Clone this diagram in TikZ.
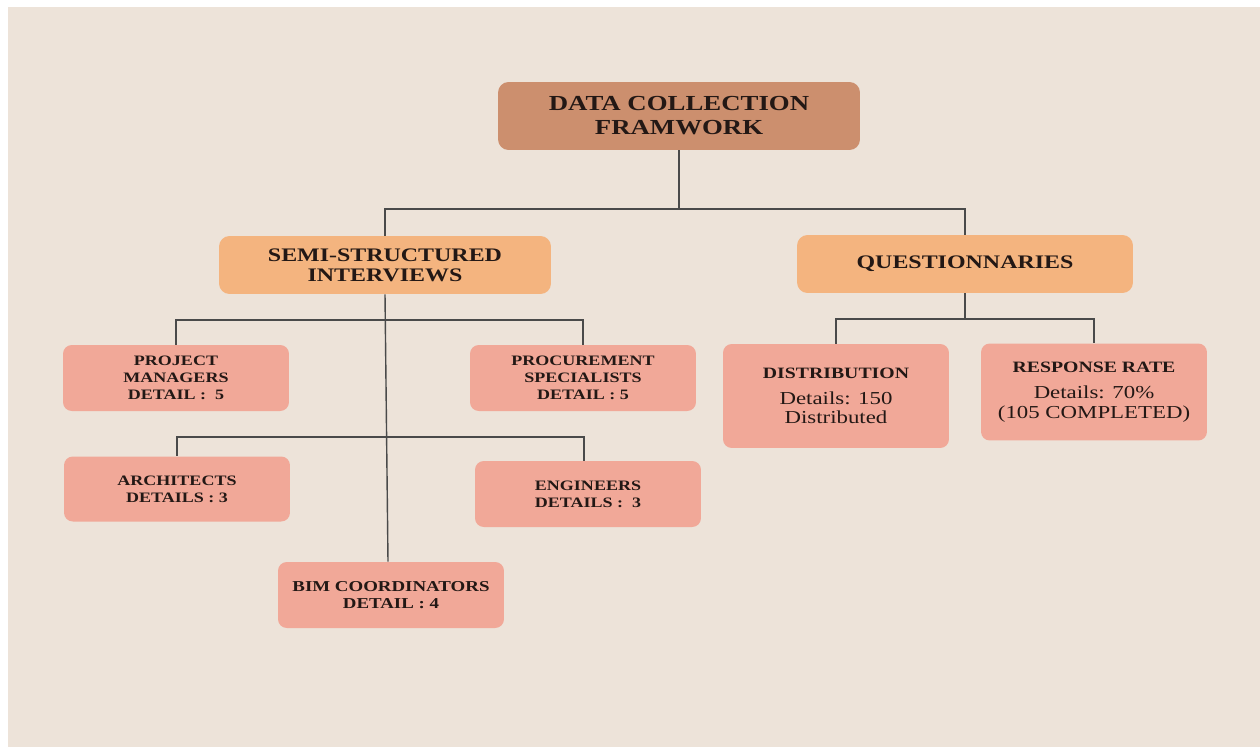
\documentclass[tikz,border=0pt]{standalone}
\usepackage{fontspec}
\setmainfont[FakeStretch=1.25]{Liberation Serif}
\usepackage{tikz}
\usetikzlibrary{positioning,calc}
\definecolor{bgbeige}{HTML}{EDE3D9}
\definecolor{rootbrown}{HTML}{CC8F6E}
\definecolor{midorange}{HTML}{F4B47F}
\definecolor{leafpink}{HTML}{F1A898}
\definecolor{linegray}{HTML}{4A4A4A}
\definecolor{inkdark}{HTML}{231815}
\tikzset{
  rootbox/.style={rectangle,rounded corners=6pt,fill=rootbrown,
    minimum width=7.24cm,minimum height=1.36cm,align=center,text=inkdark,
    font=\fontsize{12.2}{13.6}\selectfont\bfseries,inner sep=2pt},
  midbox/.style={rectangle,rounded corners=6pt,fill=midorange,
    minimum width=6.64cm,minimum height=1.16cm,align=center,text=inkdark,
    font=\fontsize{10.9}{11.6}\selectfont\bfseries,inner sep=2pt},
  leafbox/.style={rectangle,rounded corners=5pt,fill=leafpink,
    minimum width=4.52cm,minimum height=1.32cm,align=center,text=inkdark,
    font=\fontsize{8.2}{9.6}\selectfont\bfseries,inner sep=2pt},
  qleafbox/.style={rectangle,rounded corners=5pt,fill=leafpink,
    minimum width=4.52cm,align=center,text=inkdark,
    font=\fontsize{10.4}{11.3}\selectfont,inner sep=2pt},
  link/.style={draw=linegray,line width=0.8pt},
}
\begin{document}
\begin{tikzpicture}[x=0.02cm,y=-0.02cm]
  % page and background
  \fill[white] (0,0) rectangle (1260,747);
  \fill[bgbeige] (8,7) rectangle (1260,747);
  \useasboundingbox (0,0) rectangle (1260,747);

  % boxes
  \node[rootbox] (frame) at (679,116) {DATA COLLECTION\\FRAMWORK};
  \node[midbox] (semi) at (385,265) {SEMI-STRUCTURED\\INTERVIEWS};
  \node[midbox, minimum width=6.72cm] (quest) at (965,264) {QUESTIONNARIES};

  \node[leafbox] (pm) at (176,378) {PROJECT\\MANAGERS\\DETAIL :\ \ 5};
  \node[leafbox] (ps) at (583,378) {PROCUREMENT\\SPECIALISTS\\DETAIL : 5};
  \node[leafbox, minimum height=1.30cm] (arch) at (177,489) {ARCHITECTS\\DETAILS : 3};
  \node[leafbox] (eng) at (588,494) {ENGINEERS\\DETAILS :\ \ 3};
  \node[leafbox, font=\fontsize{8.6}{10}\selectfont\bfseries] (bim) at (391,595) {BIM COORDINATORS\\DETAIL : 4};

  \node[qleafbox, minimum height=2.08cm] (dist) at (836,396)
    {{\fontsize{9}{9}\selectfont\bfseries DISTRIBUTION}\\[3.4pt]Details: 150\\Distributed};
  \node[qleafbox, minimum height=1.94cm] (rate) at (1094,392)
    {{\fontsize{9}{9}\selectfont\bfseries RESPONSE RATE}\\[3.4pt]Details: 70\%\\(105 COMPLETED)};

  % connectors
  \coordinate (topbar) at (679,209);
  \coordinate (semibar) at (385,320);
  \coordinate (lowbar) at (386,437);
  \coordinate (questbar) at (965,319);
  \draw[link] (frame.south) -- (topbar);
  \draw[link] (topbar) -| (semi.north);
  \draw[link] (topbar) -| (quest.north);
  \draw[link] (semi.south) -- ($(bim.north)+(-3,0)$);
  \draw[link] (semibar) -| (pm.north);
  \draw[link] (semibar) -| (ps.north);
  \draw[link] (lowbar) -| (arch.north);
  \draw[link] (lowbar) -| ($(eng.north)+(-4,0)$);
  \draw[link] (quest.south) -- (questbar);
  \draw[link] (questbar) -| (dist.north);
  \draw[link] (questbar) -| (rate.north);
\end{tikzpicture}
\end{document}
